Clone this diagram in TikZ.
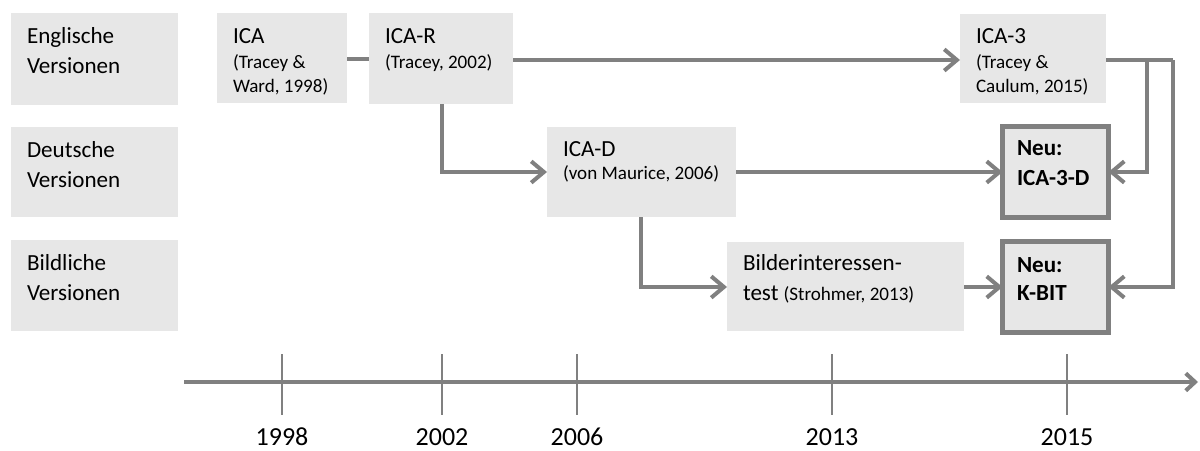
\documentclass[tikz,border=0pt]{standalone}
\usepackage{fontspec}
\setmainfont{Carlito}
\usetikzlibrary{arrows.meta}
\definecolor{boxfill}{RGB}{231,231,231}
\definecolor{linegray}{RGB}{128,128,128}
\newcommand{\bigf}{\fontsize{17.3}{20}\selectfont}
\newcommand{\smlf}{\fontsize{14.3}{16}\selectfont}
\begin{document}
\begin{tikzpicture}[x=0.75pt,y=-0.75pt,
  box/.style={fill=boxfill, draw=none, anchor=north west, inner sep=0, outer sep=0},
  newbox/.style={fill=boxfill, draw=linegray, line width=3.5pt, anchor=north west, inner sep=0, outer sep=0},
  txt/.style={anchor=base west, inner sep=0, outer sep=0, font=\bigf},
  stxt/.style={anchor=base west, inner sep=0, outer sep=0, font=\smlf},
  conn/.style={draw=linegray, line width=3pt},
  arr/.style={conn, -{Straight Barb[length=9.5pt,width=16pt]}},
  axis/.style={draw=linegray, line width=3pt, -{Straight Barb[length=7pt,width=13pt]}},
  tick/.style={draw=linegray, line width=2.2pt},
  year/.style={anchor=base, inner sep=0, font=\fontsize{19.5}{20}\selectfont}
]
\useasboundingbox (0,0) rectangle (1200,450);

% row labels
\node[box, minimum width=167*0.75pt, minimum height=92*0.75pt] (lab1) at (11,13) {};
\node[box, minimum width=167*0.75pt, minimum height=90*0.75pt] (lab2) at (11,127) {};
\node[box, minimum width=167*0.75pt, minimum height=91*0.75pt] (lab3) at (11,240) {};
\node[txt] (lab1a) at (27,43) {Englische};
\node[txt] (lab1b) at (27,73) {Versionen};
\node[txt] (lab2a) at (27,157) {Deutsche};
\node[txt] (lab2b) at (27,187) {Versionen};
\node[txt] (lab3a) at (27,270) {Bildliche};
\node[txt] (lab3b) at (27,300) {Versionen};

% version boxes
\node[box, minimum width=130*0.75pt, minimum height=90*0.75pt] (ica) at (217,13) {};
\node[txt] (icaa) at (233,43) {ICA};
\node[stxt] (icab) at (233,68) {(Tracey \&};
\node[stxt] (icac) at (233,92) {Ward, 1998)};

\node[box, minimum width=144*0.75pt, minimum height=91*0.75pt] (icar) at (369,13) {};
\node[txt] (icara) at (385,43) {ICA-R};
\node[stxt] (icarb) at (385,68) {(Tracey, 2002)};

\node[box, minimum width=146*0.75pt, minimum height=89*0.75pt] (ica3) at (960,14) {};
\node[txt] (ica3a) at (976,43) {ICA-3};
\node[stxt] (ica3b) at (976,68) {(Tracey \&};
\node[stxt] (ica3c) at (976,92) {Caulum, 2015)};

\node[box, minimum width=189*0.75pt, minimum height=90*0.75pt] (icad) at (547,127) {};
\node[txt] (icada) at (563,156) {ICA-D};
\node[stxt] (icadb) at (563,179) {(von Maurice, 2006)};

\node[box, minimum width=237*0.75pt, minimum height=89*0.75pt] (bit) at (727,242) {};
\node[txt] (bita) at (743,270) {Bilderinteressen-};
\node[txt] (bitb) at (743,300) {test {\smlf(Strohmer, 2013)}};

\node[newbox, minimum width=106*0.75pt, minimum height=91*0.75pt] (neu1) at (1002.5,126.5) {};
\node[txt, font=\bigf\bfseries] (neu1a) at (1017,155) {Neu:};
\node[txt, font=\bigf\bfseries] (neu1b) at (1017,185) {ICA-3-D};

\node[newbox, minimum width=106*0.75pt, minimum height=91*0.75pt] (neu2) at (1002.5,241.5) {};
\node[txt, font=\bigf\bfseries] (neu2a) at (1017,272) {Neu:};
\node[txt, font=\bigf\bfseries] (neu2b) at (1017,300) {K-BIT};

% connectors
\coordinate (c3r) at (1173,60);
\coordinate (c3m) at (1147,60);
\draw[conn] (ica.east |- 0,59) -- (icar.west |- 0,59);
\draw[arr] (icar.east |- 0,60) -- (ica3.west |- 0,60);
\draw[arr] (icar.south -| 442,0) -- (442,172) -- (icad.west);
\draw[arr] (icad.east) -- (neu1.west);
\draw[arr] (icad.south -| 641,0) -- (641,287) -- (bit.west |- 0,287);
\draw[arr] (bit.east |- 0,287) -- (neu2.west |- 0,287);
\draw[conn, line join=miter] (ica3.east |- c3r) -- (c3r);
\draw[arr, line join=miter] (c3m) -- (c3m |- neu1.east) -- (neu1.east);
\draw[arr, line join=miter] (c3r) -- (c3r |- 0,287) -- (neu2.east |- 0,287);

% timeline
\coordinate (ax0) at (184,382);
\coordinate (ax1) at (1198,382);
\draw[axis] (ax0) -- (ax1);
\foreach \x/\y in {282/1998, 442/2002, 577/2006, 832/2013, 1067/2015}{
  \draw[tick] (\x,354) -- (\x,415);
  \node[year] (y\y) at (\x,445) {\y};
}
\end{tikzpicture}
\end{document}
